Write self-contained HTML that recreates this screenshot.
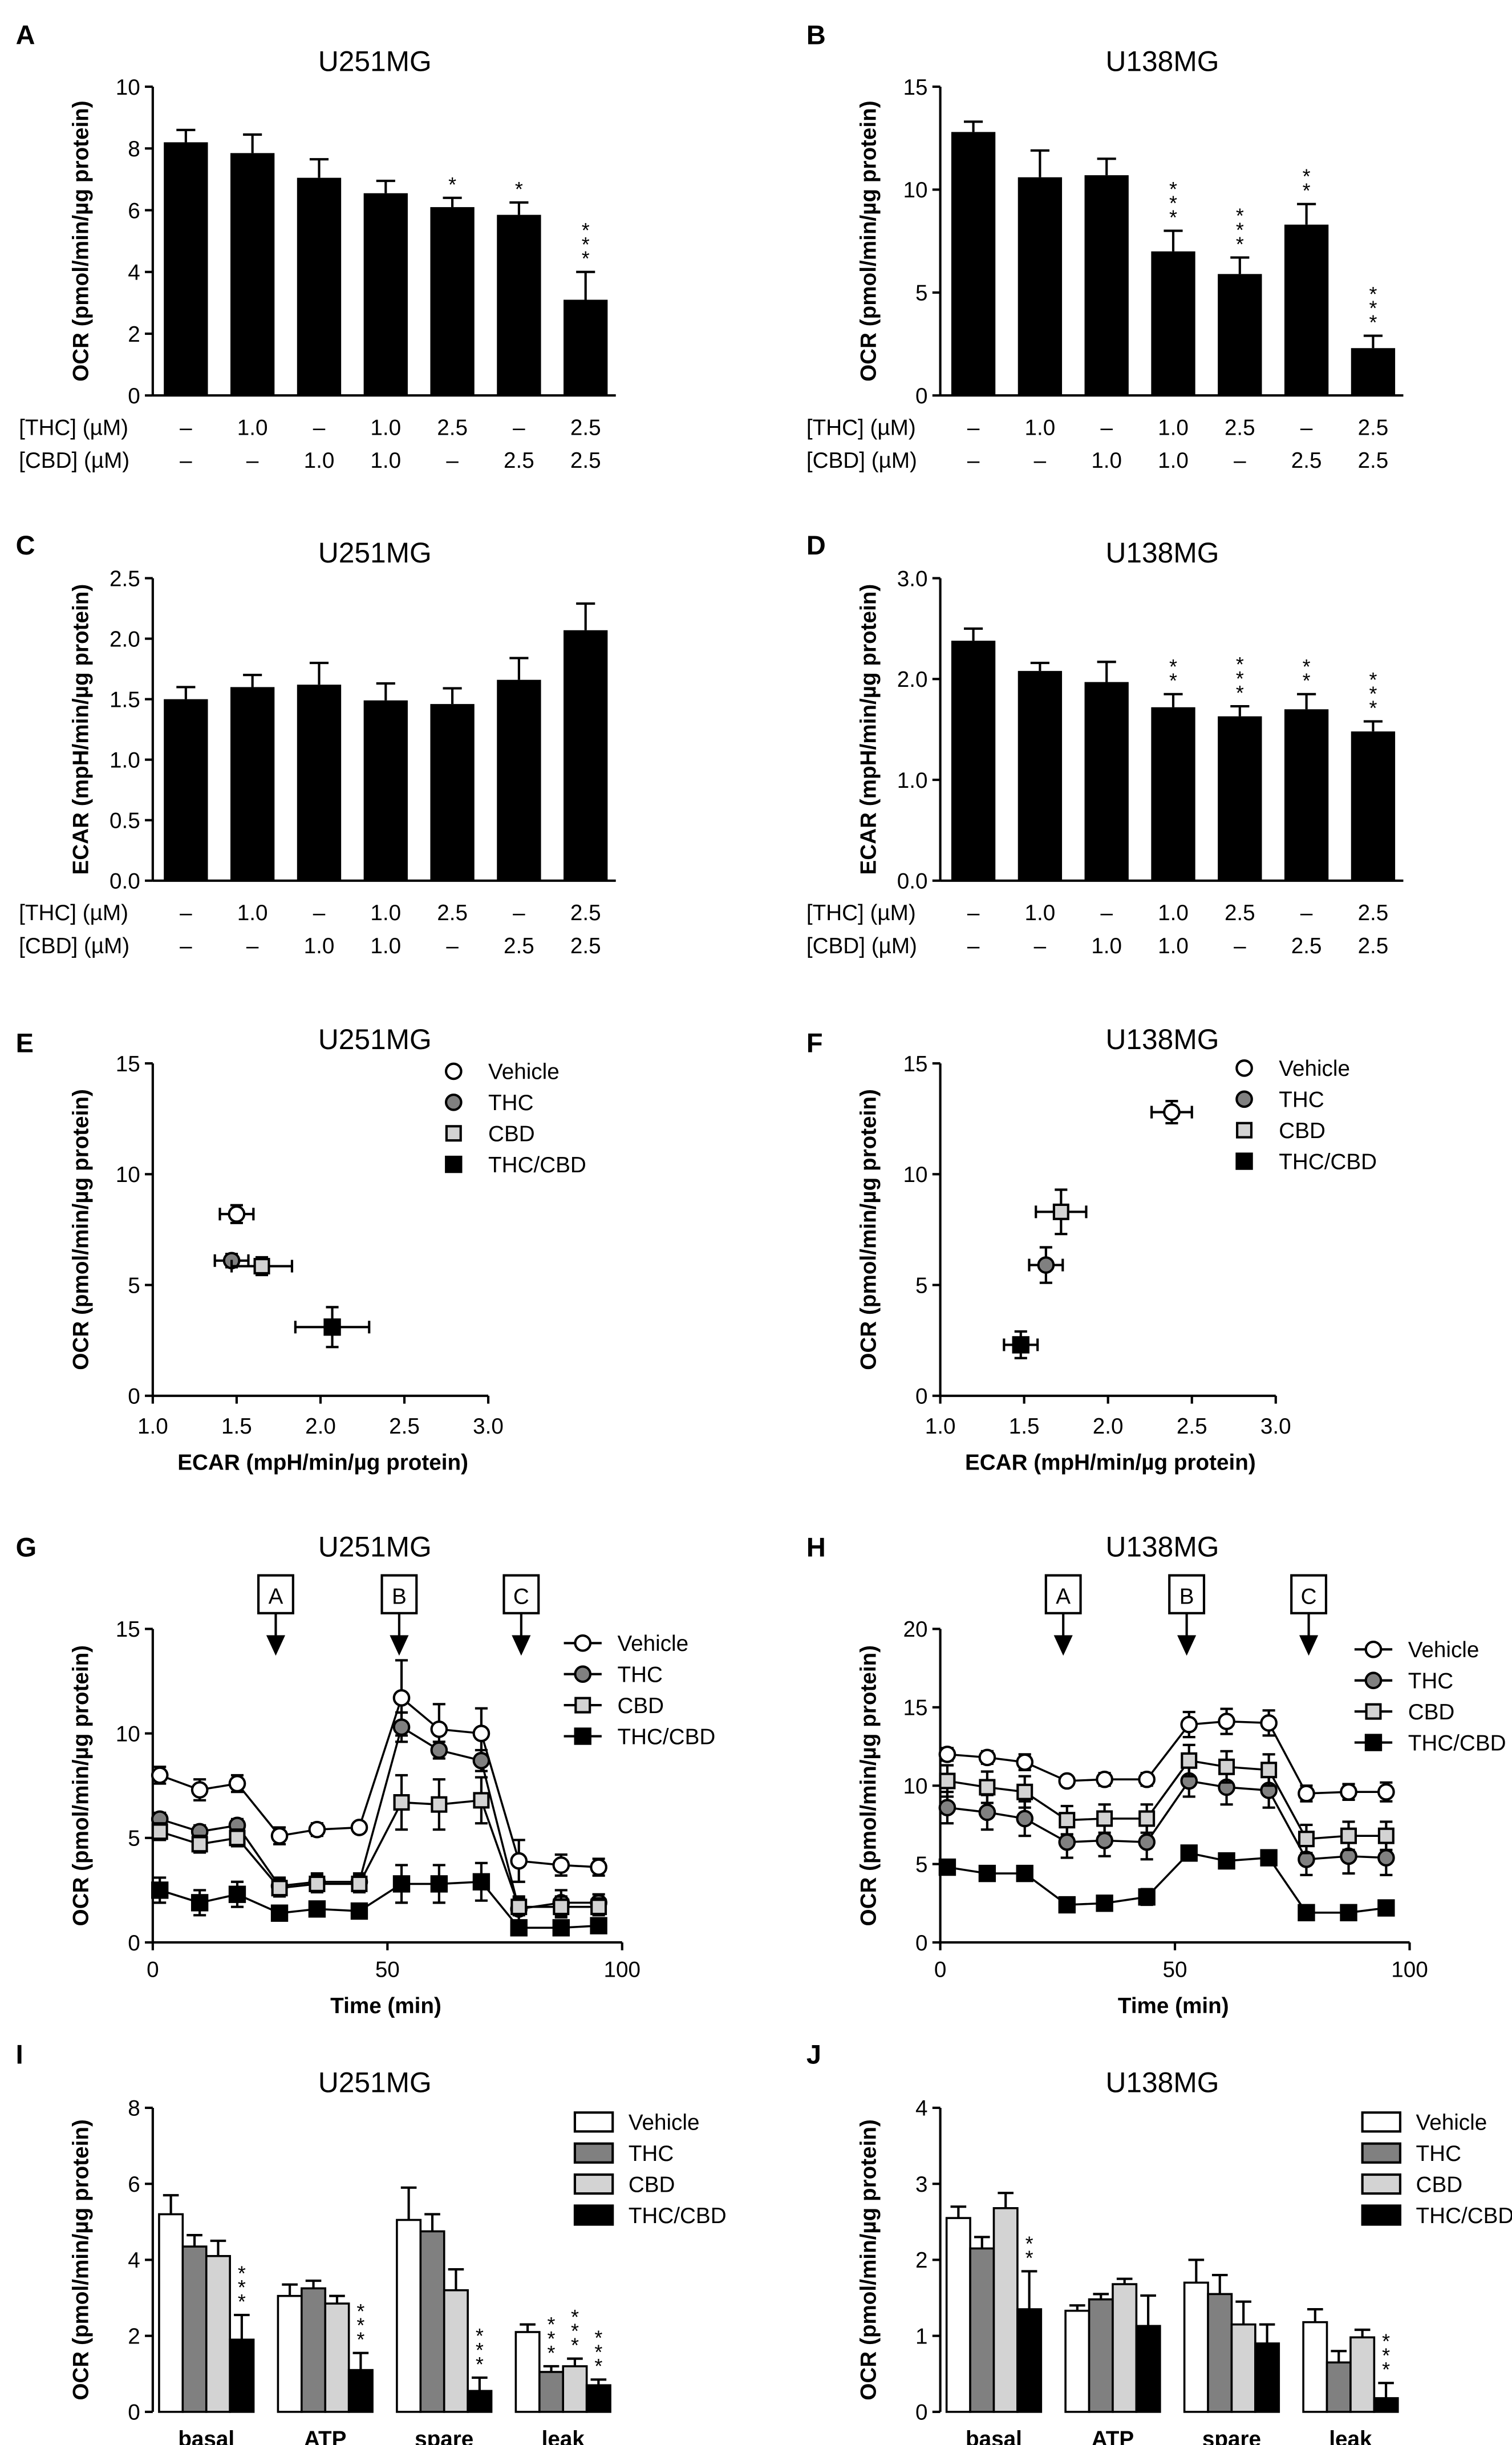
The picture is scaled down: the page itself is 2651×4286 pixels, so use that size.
<!DOCTYPE html>
<html><head><meta charset="utf-8">
<style>
html,body{margin:0;padding:0;background:#fff;}
svg{display:block;}
text{font-family:"Liberation Sans",Arial,sans-serif;fill:#000;}
</style></head>
<body>
<svg id="fig" width="2651" height="4286" viewBox="0 0 960 1552" xmlns="http://www.w3.org/2000/svg"></svg>
<script>
// ---------- DATA ----------
const thcRow = ['–','1.0','–','1.0','2.5','–','2.5'];
const cbdRow = ['–','–','1.0','1.0','–','2.5','2.5'];
const ocrU251 = [8.2,7.85,7.05,6.55,6.1,5.85,3.1];
const ocrU251Err = [0.4,0.6,0.6,0.4,0.3,0.4,0.9];
const ocrU251Stars = [0,0,0,0,1,1,3];
const ocrU138 = [12.8,10.6,10.7,7.0,5.9,8.3,2.3];
const ocrU138Err = [0.5,1.3,0.8,1.0,0.8,1.0,0.6];
const ocrU138Stars = [0,0,0,3,3,2,3];
const ecarU251 = [1.5,1.6,1.62,1.49,1.46,1.66,2.07];
const ecarU251Err = [0.1,0.1,0.18,0.14,0.13,0.18,0.22];
const ecarU251Stars = [0,0,0,0,0,0,0];
const ecarU138 = [2.38,2.08,1.97,1.72,1.63,1.7,1.48];
const ecarU138Err = [0.12,0.08,0.2,0.13,0.1,0.15,0.1];
const ecarU138Stars = [0,0,0,2,3,2,3];
const groupNames = ['Vehicle','THC','CBD','THC/CBD'];
const scatU251X = [1.5,1.47,1.65,2.07];
const scatU251Y = [8.2,6.1,5.85,3.1];
const scatU251XE = [0.1,0.1,0.18,0.22];
const scatU251YE = [0.4,0.3,0.4,0.9];
const scatU138X = [2.38,1.63,1.72,1.48];
const scatU138Y = [12.8,5.9,8.3,2.3];
const scatU138XE = [0.12,0.1,0.15,0.1];
const scatU138YE = [0.5,0.8,1.0,0.6];
const times = [1.5,10,18,27,35,44,53,61,70,78,87,95];
const tcU251 = [
 [8.0,7.3,7.6,5.1,5.4,5.5,11.7,10.2,10.0,3.9,3.7,3.6],
 [5.9,5.3,5.6,2.7,2.9,2.9,10.3,9.2,8.7,1.6,1.9,1.9],
 [5.3,4.7,5.0,2.6,2.8,2.8,6.7,6.6,6.8,1.7,1.7,1.7],
 [2.5,1.9,2.3,1.4,1.6,1.5,2.8,2.8,2.9,0.7,0.7,0.8]];
const tcU251Err = [
 [0.4,0.5,0.4,0.4,0.3,0.0,1.8,1.2,1.2,1.0,0.5,0.4],
 [0.3,0.3,0.3,0.4,0.4,0.4,0.7,0.4,0.5,0.6,0.6,0.4],
 [0.4,0.4,0.4,0.4,0.4,0.4,1.3,1.2,1.1,0.4,0.5,0.4],
 [0.6,0.6,0.6,0.2,0.2,0.2,0.9,0.9,0.9,0.1,0.1,0.1]];
const tcU138 = [
 [12.0,11.8,11.5,10.3,10.4,10.4,13.9,14.1,14.0,9.5,9.6,9.6],
 [8.6,8.3,7.9,6.4,6.5,6.4,10.3,9.9,9.7,5.3,5.5,5.4],
 [10.3,9.9,9.6,7.8,7.9,7.9,11.6,11.2,11.0,6.6,6.8,6.8],
 [4.8,4.4,4.4,2.4,2.5,2.9,5.7,5.2,5.4,1.9,1.9,2.2]];
const tcU138Err = [
 [0.4,0.4,0.5,0.3,0.4,0.4,0.8,0.8,0.8,0.5,0.5,0.6],
 [1.0,1.1,1.1,1.0,1.0,1.1,1.0,1.1,1.1,1.0,1.1,1.1],
 [1.0,1.0,1.0,0.9,0.9,0.9,1.0,1.0,1.0,0.9,0.9,0.9],
 [0.2,0.2,0.2,0.2,0.2,0.5,0.2,0.2,0.2,0.2,0.2,0.2]];
const paramNames = ['basal','ATP','spare','leak'];
const parU251 = [[5.2,4.35,4.1,1.9],[3.05,3.25,2.85,1.1],[5.05,4.75,3.2,0.55],[2.1,1.05,1.2,0.7]];
const parU251Err = [[0.5,0.3,0.4,0.65],[0.3,0.2,0.2,0.45],[0.85,0.45,0.55,0.35],[0.2,0.15,0.2,0.15]];
const parU251Stars = [[0,0,0,3],[0,0,0,3],[0,0,0,3],[0,3,3,3]];
const parU138 = [[2.55,2.15,2.68,1.35],[1.33,1.48,1.68,1.13],[1.7,1.55,1.15,0.9],[1.18,0.65,0.98,0.18]];
const parU138Err = [[0.15,0.15,0.2,0.5],[0.07,0.07,0.07,0.4],[0.3,0.25,0.3,0.25],[0.17,0.15,0.1,0.2]];
const parU138Stars = [[0,0,0,2],[0,0,0,0],[0,0,0,0],[0,0,0,3]];
const fills = ['#ffffff','#808080','#d3d3d3','#000000'];

// ---------- HELPERS ----------
const NS='http://www.w3.org/2000/svg';
const svg=document.getElementById('fig');
function mk(tag,attrs,parent){const e=document.createElementNS(NS,tag);for(const k in attrs)e.setAttribute(k,attrs[k]);(parent||svg).appendChild(e);return e;}
function txt(s,x,y,size,opts,parent){opts=opts||{};const t=mk('text',{x:x,y:y,'font-size':size,'text-anchor':opts.anchor||'middle','font-weight':opts.bold?'bold':'normal'},parent);if(opts.rot)t.setAttribute('transform','rotate(-90 '+x+' '+y+')');t.textContent=s;return t;}
function lin(d0,d1,r0,r1){return v=>r0+(v-d0)/(d1-d0)*(r1-r0);}
function line(x1,y1,x2,y2,w,parent){return mk('line',{x1:x1,y1:y1,x2:x2,y2:y2,stroke:'#000','stroke-width':w||1.5},parent);}
function yAxis(g,x,yb,yt,ticks,fmt,sy){line(x,yb,x,yt,1.5,g);ticks.forEach(v=>{const y=sy(v);line(x-5,y,x,y,1.5,g);const t=txt(fmt(v),x-8,y+5,14,{anchor:'end'},g);});}
function stars(g,x,yTop,n){for(let k=0;k<n;k++){const t=txt('*',x,yTop-4-k*9,13,{},g);}}
function panelLetter(s,x,y){const t=txt(s,x,y,17,{anchor:'start',bold:true});}
function title(s,x,y,g){const t=txt(s,x,y,18,{},g);}
function yTitle(s,x,y,g){const t=txt(s,x,y,14,{bold:true,rot:true},g);}
function marker(g,type,x,y){let m;
 if(type===0)m=mk('circle',{cx:x,cy:y,r:4.8,fill:'#fff',stroke:'#000','stroke-width':1.5},g);
 else if(type===1)m=mk('circle',{cx:x,cy:y,r:4.8,fill:'#808080',stroke:'#000','stroke-width':1.5},g);
 else if(type===2)m=mk('rect',{x:x-4.5,y:y-4.5,width:9,height:9,fill:'#d3d3d3',stroke:'#000','stroke-width':1.5},g);
 else m=mk('rect',{x:x-5,y:y-5,width:10,height:10,fill:'#000',stroke:'#000','stroke-width':1},g);
 return m;}

// ---------- BAR PANELS (A-D) ----------
function barPanel(name,x0,yTop,yBot,max,ticks,fmt,vals,errs,st,ttl){
 const g=mk('g',{});
 const sy=lin(0,max,yBot,yTop);
 title(ttl,x0+141,yTop-10,g);
 yTitle(name.indexOf('ecar')>=0?'ECAR (mpH/min/µg protein)':'OCR (pmol/min/µg protein)',x0-41,(yTop+yBot)/2,g);
 const cx=i=>x0+21+i*42.3;
 vals.forEach((v,i)=>{
  const x=cx(i),y=sy(v),ye=sy(v+errs[i]);
  line(x,y,x,ye,1.5,g);line(x-6,ye,x+6,ye,1.5,g);
  const b=mk('rect',{x:x-14,y:y,width:28,height:yBot-y,fill:'#000'},g);
  
  stars(g,x,ye,st[i]);
  const a=txt(thcRow[i],x,yBot+25,14,{},g);
  const c=txt(cbdRow[i],x,yBot+46,14,{},g);
 });
 line(x0,yBot,x0+294,yBot,1.5,g);
 yAxis(g,x0,yBot,yTop,ticks,fmt,sy);
 const r1=txt('[THC] (µM)',x0-85,yBot+25,14,{anchor:'start'},g);
 const r2=txt('[CBD] (µM)',x0-85,yBot+46,14,{anchor:'start'},g);
}
panelLetter('A',10,28);panelLetter('B',512,28);panelLetter('C',10,352);panelLetter('D',512,352);
barPanel('ocr-u251-bar-chart',97,55,251,10,[0,2,4,6,8,10],v=>String(v),ocrU251,ocrU251Err,ocrU251Stars,'U251MG');
barPanel('ocr-u138-bar-chart',597,55,251,15,[0,5,10,15],v=>String(v),ocrU138,ocrU138Err,ocrU138Stars,'U138MG');
barPanel('ecar-u251-bar-chart',97,367,559,2.5,[0,0.5,1,1.5,2,2.5],v=>v.toFixed(1),ecarU251,ecarU251Err,ecarU251Stars,'U251MG');
barPanel('ecar-u138-bar-chart',597,367,559,3,[0,1,2,3],v=>v.toFixed(1),ecarU138,ecarU138Err,ecarU138Stars,'U138MG');

// ---------- SCATTER (E-F) ----------
function legend(g,x,y0,dy,lineStyle,boxes){
 groupNames.forEach((n,i)=>{const y=y0+i*dy;
  const le=mk('g',{},g);
  if(boxes){mk('rect',{x:x-12,y:y-6,width:24,height:12,fill:fills[i],stroke:'#000','stroke-width':1.5},le);}
  else{if(lineStyle)line(x-12,y,x+12,y,1.5,le);marker(le,i,x,y);}
  txt(n,x+22,y+5,14,{anchor:'start'},le);});
}
function scatterPanel(name,x0,xs,ys,xe,ye,ttl,legX,legY){
 const g=mk('g',{});
 const yTop=675,yBot=886;
 const sx=lin(1,3,x0,x0+213),sy=lin(0,15,yBot,yTop);
 title(ttl,x0+141,666,g);yTitle('OCR (pmol/min/µg protein)',x0-41,(yTop+yBot)/2,g);
 yAxis(g,x0,yBot,yTop,[0,5,10,15],v=>String(v),sy);
 line(x0,yBot,x0+213,yBot,1.5,g);
 [1,1.5,2,2.5,3].forEach(v=>{const x=sx(v);line(x,yBot,x,yBot+5,1.5,g);const t=txt(v.toFixed(1),x,yBot+24,14,{},g);});
 const xt=txt('ECAR (mpH/min/µg protein)',x0+108,yBot+47,14,{bold:true},g);
 xs.forEach((v,i)=>{const x=sx(v),y=sy(ys[i]);
  const x1=sx(v-xe[i]),x2=sx(v+xe[i]),y1=sy(ys[i]-ye[i]),y2=sy(ys[i]+ye[i]);
  line(x1,y,x2,y,1.5,g);line(x1,y-4,x1,y+4,1.5,g);line(x2,y-4,x2,y+4,1.5,g);
  line(x,y1,x,y2,1.5,g);line(x-4,y1,x+4,y1,1.5,g);line(x-4,y2,x+4,y2,1.5,g);
  const m=marker(g,i,x,y);});
 legend(g,legX,legY,19.7,false,false);
}
panelLetter('E',10,668);panelLetter('F',512,668);
scatterPanel('ecar-ocr-u251-scatter',97,scatU251X,scatU251Y,scatU251XE,scatU251YE,'U251MG',288,680);
scatterPanel('ecar-ocr-u138-scatter',597,scatU138X,scatU138Y,scatU138XE,scatU138YE,'U138MG',790,678);

// ---------- TIME COURSE (G-H) ----------
function tcPanel(name,x0,max,ticks,data,errs,ttl,legX,legY){
 const g=mk('g',{});
 const yTop=1034,yBot=1233;
 const sx=lin(0,100,x0,x0+298),sy=lin(0,max,yBot,yTop);
 title(ttl,x0+141,988,g);yTitle('OCR (pmol/min/µg protein)',x0-41,(yTop+yBot)/2,g);
 yAxis(g,x0,yBot,yTop,ticks,v=>String(v),sy);
 line(x0,yBot,x0+298,yBot,1.5,g);
 [0,50,100].forEach(v=>{const x=sx(v);line(x,yBot,x,yBot+5,1.5,g);const t=txt(String(v),x,yBot+22,14,{},g);});
 const xt=txt('Time (min)',x0+148,yBot+45,14,{bold:true},g);
 [['A',26.2],['B',52.5],['C',78.5]].forEach(a=>{const x=sx(a[1]);
  const ig=mk('g',{},g);
  mk('rect',{x:x-11,y:1000,width:22,height:24,fill:'#fff',stroke:'#000','stroke-width':1.5},ig);
  txt(a[0],x,1018,14,{},ig);line(x,1024,x,1040,1.5,ig);
  mk('polygon',{points:(x-6)+',1038 '+(x+6)+',1038 '+x+',1051',fill:'#000'},ig);});
 data.forEach((ser,si)=>{
  const sg=mk('g',{},g);
  const pts=ser.map((v,i)=>sx(times[i])+','+sy(v)).join(' ');
  mk('polyline',{points:pts,fill:'none',stroke:'#000','stroke-width':1.3},sg);
  ser.forEach((v,i)=>{const x=sx(times[i]),e=errs[si][i];if(e>0){const y1=sy(v-e),y2=sy(v+e);line(x,y1,x,y2,1.5,sg);line(x-4,y1,x+4,y1,1.5,sg);line(x-4,y2,x+4,y2,1.5,sg);}});
  ser.forEach((v,i)=>{const m=marker(sg,si,sx(times[i]),sy(v));});
 });
 legend(g,legX,legY,19.7,true,false);
}
panelLetter('G',10,988);panelLetter('H',512,988);
tcPanel('ocr-timecourse-u251',97,15,[0,5,10,15],tcU251,tcU251Err,'U251MG',370,1043);
tcPanel('ocr-timecourse-u138',597,20,[0,5,10,15,20],tcU138,tcU138Err,'U138MG',872,1047);

// ---------- PARAMETERS (I-J) ----------
function parPanel(name,x0,max,ticks,data,errs,st,ttl,legX,legY){
 const g=mk('g',{});
 const yTop=1338,yBot=1531;
 const sy=lin(0,max,yBot,yTop);
 title(ttl,x0+141,1328,g);yTitle('OCR (pmol/min/µg protein)',x0-41,(yTop+yBot)/2,g);
 data.forEach((grp,gi)=>{
  const gx=x0+4+gi*75.5;
  grp.forEach((v,bi)=>{const x=gx+bi*15,y=sy(v),ye=sy(v+errs[gi][bi]);
   const xc=x+7.5;line(xc,y,xc,ye,1.5,g);line(xc-5,ye,xc+5,ye,1.5,g);
   const b=mk('rect',{x:x,y:y,width:15,height:yBot-y,fill:fills[bi],stroke:'#000','stroke-width':1.3},g);
   
   stars(g,xc,ye,st[gi][bi]);});
  const t=txt(paramNames[gi],gx+30,1553,14,{bold:true},g);
 });
 yAxis(g,x0,yBot,yTop,ticks,v=>String(v),sy);
 legend(g,legX,legY,19.7,false,true);
}
panelLetter('I',10,1310);panelLetter('J',512,1310);
parPanel('ocr-parameters-u251',97,8,[0,2,4,6,8],parU251,parU251Err,parU251Stars,'U251MG',377,1347);
parPanel('ocr-parameters-u138',597,4,[0,1,2,3,4],parU138,parU138Err,parU138Stars,'U138MG',877,1347);
</script>
</body></html>
